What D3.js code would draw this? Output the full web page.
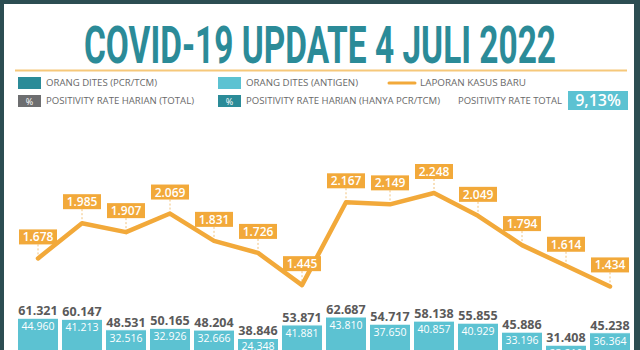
<!DOCTYPE html>
<html><head><meta charset="utf-8">
<script src="https://cdn.jsdelivr.net/npm/d3@7"></script>
<style>html,body{margin:0;padding:0;background:#fff;}svg{display:block;}</style>
</head><body>
<svg id="c" width="640" height="350"></svg>
<script>
const days = ["21/6","22/6","23/6","24/6","25/6","26/6","27/6","28/6","29/6","30/6","1/7","2/7","3/7","4/7"];
const newCases = [1678,1985,1907,2069,1831,1726,1445,2167,2149,2248,2049,1794,1614,1434];
const totalTested = [61321,60147,48531,50165,48204,38846,53871,62687,54717,58138,55855,45886,31408,45238];
const antigenTested = [44960,41213,32516,32926,32666,24348,41881,43810,37650,40857,40929,33196,23210,36364];
const titleText = "COVID-19 UPDATE 4 JULI 2022";
const positivityTotal = "9,13%";

const fmt = v => d3.format(",")(v).replace(/,/g, ".");
const svg = d3.select("#c");
const teal = "#2b8b98", light = "#5cc2d2", orange = "#f2a93a", grey = "#6d6e70";

// frame
svg.append("rect").attr("width",640).attr("height",350).attr("fill","#2c4d52");
svg.append("rect").attr("x",4).attr("y",4).attr("width",630).attr("height",350).attr("fill","#fff");

// title
svg.append("text").attr("x",320).attr("y",63).attr("text-anchor","middle")
  .attr("font-family","Roboto").attr("font-weight",700).attr("font-size",52)
  .attr("fill",teal).attr("textLength",472).attr("lengthAdjust","spacingAndGlyphs")
  .text(titleText);
svg.append("line").attr("x1",15).attr("x2",627).attr("y1",70.5).attr("y2",70.5)
  .attr("stroke","#f6c87a").attr("stroke-width",2);

// legend
const lg = svg.append("g").attr("font-family","Open Sans").attr("font-size",9.5).attr("fill","#6a6a6a");
function legText(x,y,t,w){ const e=lg.append("text").attr("x",x).attr("y",y).text(t); if(w) e.attr("textLength",w).attr("lengthAdjust","spacingAndGlyphs"); }
function pctBox(x,y,c){ lg.append("rect").attr("x",x).attr("y",y).attr("width",23).attr("height",12).attr("fill",c);
  lg.append("text").attr("x",x+11.5).attr("y",y+9.5).attr("text-anchor","middle").attr("fill","#fff").attr("font-size",9).text("%"); }
lg.append("rect").attr("x",18).attr("y",77).attr("width",23).attr("height",12).attr("fill",teal);
legText(46,86,"ORANG DITES (PCR/TCM)",111);
lg.append("rect").attr("x",218).attr("y",77).attr("width",23).attr("height",12).attr("fill",light);
legText(246,86,"ORANG DITES (ANTIGEN)",112);
lg.append("line").attr("x1",389).attr("x2",415).attr("y1",83).attr("y2",83).attr("stroke",orange).attr("stroke-width",3).attr("stroke-linecap","round");
legText(420,86,"LAPORAN KASUS BARU",106);
pctBox(18,95,grey);
legText(46,104,"POSITIVITY RATE HARIAN (TOTAL)",148);
pctBox(218,95,teal);
legText(246,104,"POSITIVITY RATE HARIAN (HANYA PCR/TCM)",194);
legText(458,104,"POSITIVITY RATE TOTAL",104);
lg.append("rect").attr("x",568).attr("y",91).attr("width",60).attr("height",19).attr("fill",light);
lg.append("text").attr("x",598).attr("y",106).attr("text-anchor","middle").attr("fill","#fff")
  .attr("font-size",16).attr("font-weight",600).text(positivityTotal);

// scales
const x = d3.scalePoint().domain(days).range([38,610]);
const yLine = d3.scaleLinear().domain([0,2248]).range([451,193]);
const yBar = d3.scaleLinear().domain([0,62687]).range([373.5,317]);

// bars (stacked: antigen on top of pcr)
const bw = 41;
const bars = svg.append("g");
days.forEach((d,i)=>{
  const cx = x(d), tot = totalTested[i], ag = antigenTested[i], pcr = tot-ag;
  bars.append("rect").attr("x",cx-bw/2).attr("y",yBar(pcr)).attr("width",bw).attr("height",yBar(0)-yBar(pcr)).attr("fill",teal);
  bars.append("rect").attr("x",cx-bw/2).attr("y",yBar(tot)).attr("width",bw).attr("height",yBar(pcr)-yBar(tot))
    .attr("fill",light).attr("stroke","#fff").attr("stroke-width",1);
  bars.append("text").attr("x",cx).attr("y",yBar(tot)-3).attr("text-anchor","middle")
    .attr("font-family","Open Sans").attr("font-weight",700).attr("font-size",12.5).attr("fill","#5a5a5a").text(fmt(tot));
  bars.append("text").attr("x",cx).attr("y",yBar(tot)+12).attr("text-anchor","middle")
    .attr("font-family","Open Sans").attr("font-size",10.5).attr("fill","#fff").text(fmt(ag));
});

// line
const lineG = svg.append("g");
const gap = 14;
days.forEach((d,i)=>{
  const cx = x(d), cy = yLine(newCases[i]);
  lineG.append("line").attr("x1",cx).attr("x2",cx).attr("y1",cy-gap).attr("y2",cy)
    .attr("stroke","#f2c27a").attr("stroke-width",1).attr("stroke-dasharray","2,2");
});
lineG.append("path").datum(newCases.map((v,i)=>[x(days[i]),yLine(v)]))
  .attr("d",d3.line()).attr("fill","none").attr("stroke",orange).attr("stroke-width",4.5)
  .attr("stroke-linejoin","round").attr("stroke-linecap","round");
days.forEach((d,i)=>{
  const cx = x(d), cy = yLine(newCases[i]) - gap;
  lineG.append("rect").attr("x",cx-19).attr("y",cy-15).attr("width",38).attr("height",15).attr("fill",orange);
  lineG.append("text").attr("x",cx).attr("y",cy-3).attr("text-anchor","middle")
    .attr("font-family","Open Sans").attr("font-weight",600).attr("font-size",12).attr("fill","#fff").text(fmt(newCases[i]));
});
</script>
</body></html>
